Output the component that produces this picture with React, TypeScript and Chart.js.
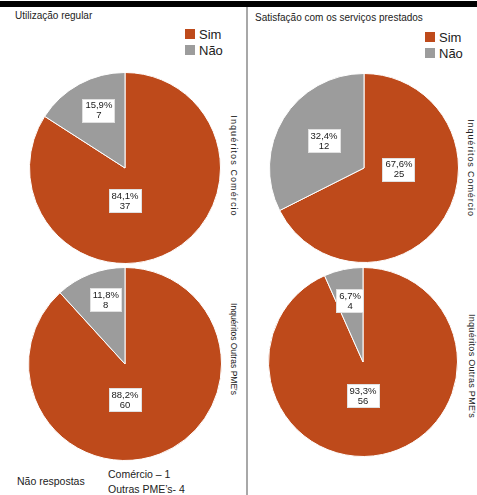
import React, { useEffect, useRef } from "react";
import { Chart, registerables } from "chart.js";

Chart.register(...registerables);

// ---- data ----
const categories = ["Sim", "Não"];
const usoComercio = [37, 7];
const usoOutras = [60, 8];
const satisComercio = [25, 12];
const satisOutras = [56, 4];

const COLORS = ["#BE4A1B", "#9C9C9C"];

// label anchor placement per slice: [angle from top in degrees, fraction of radius]
const placeUsoComercio = [[180, 0.35], [-24.5, 0.66]];
const placeUsoOutras = [[180, 0.375], [-16.8, 0.69]];
const placeSatisComercio = [[93, 0.37], [-56, 0.51]];
const placeSatisOutras = [[180, 0.36], [-12, 0.66]];

const fmtPct = (v: number, total: number) =>
  ((v / total) * 100).toFixed(1).replace(".", ",") + "%";

const labelPlugin = {
  id: "sliceLabels",
  afterDatasetsDraw(chart: any, _args: any, opts: any) {
    const ctx = chart.ctx;
    const meta = chart.getDatasetMeta(0);
    const data = chart.data.datasets[0].data as number[];
    const total = data.reduce((a, b) => a + b, 0);
    const place = opts.place as number[][];
    meta.data.forEach((arc: any, i: number) => {
      const [deg, frac] = place[i];
      const a = (deg * Math.PI) / 180;
      const r = arc.outerRadius * frac;
      const cx = arc.x + r * Math.sin(a);
      const cy = arc.y - r * Math.cos(a);
      const l1 = fmtPct(data[i], total);
      const l2 = String(data[i]);
      ctx.save();
      ctx.font = "9.5px 'Liberation Sans', Arial, sans-serif";
      const w = Math.max(ctx.measureText(l1).width, ctx.measureText(l2).width) + 6;
      const h = 24;
      ctx.fillStyle = "#ffffff";
      ctx.fillRect(Math.round(cx - w / 2), Math.round(cy - h / 2), Math.round(w), h);
      ctx.strokeStyle = "rgba(0,0,0,0.12)";
      ctx.lineWidth = 1;
      ctx.strokeRect(Math.round(cx - w / 2) + 0.5, Math.round(cy - h / 2) + 0.5, Math.round(w) - 1, h - 1);
      ctx.fillStyle = "#1a1a1a";
      ctx.textAlign = "center";
      ctx.textBaseline = "middle";
      ctx.fillText(l1, cx, cy - 5);
      ctx.fillText(l2, cx, cy + 5);
      ctx.restore();
    });
  },
};

function Pie({ values, place, left, top, size }: any) {
  const ref = useRef<HTMLCanvasElement>(null);
  useEffect(() => {
    const chart = new Chart(ref.current!, {
      type: "pie",
      data: {
        labels: categories,
        datasets: [
          {
            data: values,
            backgroundColor: COLORS,
            borderColor: "#ffffff",
            borderWidth: 1,
          },
        ],
      },
      options: {
        animation: false,
        responsive: false,
        devicePixelRatio: 1,
        layout: { padding: 0 },
        plugins: {
          legend: { display: false },
          tooltip: { enabled: false },
          sliceLabels: { place },
        } as any,
      },
      plugins: [labelPlugin],
    });
    return () => chart.destroy();
  }, []);
  return (
    <canvas
      ref={ref}
      width={size}
      height={size}
      style={{ position: "absolute", left, top, width: size, height: size }}
    />
  );
}

const txt = "'Liberation Sans', Arial, sans-serif";

function Legend({ left, top }: any) {
  return (
    <div style={{ position: "absolute", left, top, fontFamily: txt, fontSize: 13, color: "#222" }}>
      {categories.map((c, i) => (
        <div key={c} style={{ display: "flex", alignItems: "center", height: 16 }}>
          <div style={{ width: 10, height: 10, background: COLORS[i], marginRight: 4 }} />
          <span>{c}</span>
        </div>
      ))}
    </div>
  );
}

function VLabel({ text, x, y, size, spacing }: any) {
  return (
    <div
      style={{
        position: "absolute",
        left: x,
        top: y,
        transform: "translate(-50%, -50%) rotate(90deg)",
        whiteSpace: "nowrap",
        fontFamily: txt,
        fontSize: size,
        letterSpacing: spacing,
        color: "#222",
      }}
    >
      {text}
    </div>
  );
}

export default function App() {
  return (
    <div
      style={{
        position: "fixed",
        left: 0,
        top: 0,
        width: 477,
        height: 495,
        background: "#fff",
        overflow: "hidden",
      }}
    >
      <div style={{ position: "absolute", left: 0, top: 1, width: 477, height: 6, background: "#000" }} />
      <div style={{ position: "absolute", left: 246, top: 7, width: 2, height: 488, background: "#A8A8A8" }} />

      <div style={{ position: "absolute", left: 15, top: 10, fontFamily: txt, fontSize: 10, color: "#222" }}>
        Utilização regular
      </div>
      <div style={{ position: "absolute", left: 255, top: 12, fontFamily: txt, fontSize: 10, color: "#222" }}>
        Satisfação com os serviços prestados
      </div>

      <Legend left={185} top={26} />
      <Legend left={425} top={29} />

      <Pie values={usoComercio} place={placeUsoComercio} left={29} top={72} size={192} />
      <Pie values={satisComercio} place={placeSatisComercio} left={269} top={73} size={190} />
      <Pie values={usoOutras} place={placeUsoOutras} left={28} top={267} size={194} />
      <Pie values={satisOutras} place={placeSatisOutras} left={268} top={267} size={190} />

      <VLabel text="Inquéritos Comércio" x={234} y={166} size={9} spacing={1.1} />
      <VLabel text="Inquéritos Comércio" x={471} y={168} size={9} spacing={0.9} />
      <VLabel text="Inquéritos Outras PME's" x={234} y={349} size={8.5} spacing={0} />
      <VLabel text="Inquéritos Outras PME's" x={472} y={366} size={9} spacing={0.3} />

      <div style={{ position: "absolute", left: 17, top: 475, fontFamily: txt, fontSize: 10.5, color: "#222" }}>
        Não respostas
      </div>
      <div style={{ position: "absolute", left: 108, top: 467, fontFamily: txt, fontSize: 10.5, color: "#222", lineHeight: "15px" }}>
        <div>Comércio – 1</div>
        <div>Outras PME’s- 4</div>
      </div>
    </div>
  );
}
